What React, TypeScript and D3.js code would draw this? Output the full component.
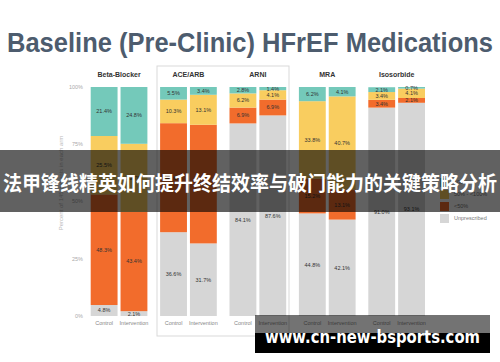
import React from 'react';
import * as d3 from 'd3';

const meds = ['Beta-Blocker', 'ACE/ARB', 'ARNI', 'MRA', 'Isosorbide'];
const arms = ['Control', 'Intervention'];
const doseKeys = ['Unprescribed', '<50%', '50% - <100%', '100%'];
// values per med x arm (Control, Intervention)
const unprescribed = [4.8, 2.1, 36.6, 31.7, 84.1, 87.6, 44.8, 42.1, 91.0, 93.1];
const under50 = [48.3, 43.4, 47.6, 51.8, 6.9, 6.9, 15.2, 13.1, 3.4, 2.1];
const mid50to100 = [25.5, 29.7, 10.3, 13.1, 6.2, 4.1, 33.8, 40.7, 3.4, 4.1];
const full100 = [21.4, 24.8, 5.5, 3.4, 2.8, 1.4, 6.2, 4.1, 2.1, 0.7];
const yTicks = [0, 25, 50, 75, 100];
const legendOrder = ['100%', '50% - <100%', '<50%', 'Unprescribed'];
const colors: Record<string, string> = {
  'Unprescribed': '#d6d6d6',
  '<50%': '#f26c2c',
  '50% - <100%': '#f9cd5f',
  '100%': '#74c9ba',
};

const title = 'Baseline (Pre-Clinic) HFrEF Medications';
const bannerText = '法甲锋线精英如何提升终结效率与破门能力的关键策略分析';
const watermark = 'www.cn-new-bsports.com';

const rows = meds.flatMap((m, i) =>
  arms.map((a, j) => {
    const k = i * 2 + j;
    return {
      med: m,
      arm: a,
      'Unprescribed': unprescribed[k],
      '<50%': under50[k],
      '50% - <100%': mid50to100[k],
      '100%': full100[k],
    } as any;
  })
);

export default function App() {
  const font = 'Liberation Sans, Arial, sans-serif';
  const x0 = d3.scaleBand<string>().domain(meds).range([90.7, 425]).paddingInner(0.183);
  const x1 = d3.scaleBand<string>().domain(arms).range([0, x0.bandwidth()]).paddingInner(0.1);
  const y = d3.scaleLinear().domain([0, 100]).range([316, 87]);
  const stack = d3.stack<any>().keys(doseKeys);
  const series = stack(rows);

  return (
    <svg width={500} height={362} style={{ position: 'absolute', left: 0, top: 0, background: '#fff' }} fontFamily={font}>
      <rect x={0} y={0} width={500} height={362} fill="#fff" />
      <text x={7} y={52} fontSize={27} fontWeight="bold" fill="#4d5c6e" textLength={486} lengthAdjust="spacingAndGlyphs">{title}</text>

      {/* highlight box around ACE/ARB and ARNI */}
      <rect x={157} y={66} width={132} height={270} fill="none" stroke="#d9d9d9" strokeWidth={1} />

      {/* y axis */}
      {yTicks.map(t => (
        <text key={t} x={83} y={y(t)} dy="0.35em" textAnchor="end" fontSize={5.5} fill="#aaa">{t}%</text>
      ))}
      <text transform={`translate(63,183) rotate(-90)`} textAnchor="middle" fontSize={6} fill="#bbb">Percent of 145 patients in each arm</text>

      {/* facet headers */}
      {meds.map(m => (
        <text key={m} x={(x0(m) as number) + x0.bandwidth() / 2} y={77} textAnchor="middle" fontSize={7} fontWeight="bold" fill="#333">{m}</text>
      ))}

      {/* bars */}
      {series.map(s => (
        <g key={s.key} fill={colors[s.key]}>
          {s.map((d, i) => {
            const r = rows[i];
            const bx = (x0(r.med) as number) + (x1(r.arm) as number);
            return (
              <rect key={i} x={bx} y={y(d[1])} width={x1.bandwidth()} height={y(d[0]) - y(d[1])} />
            );
          })}
        </g>
      ))}
      {series.map(s => (
        <g key={s.key + 'l'}>
          {s.map((d, i) => {
            const r = rows[i];
            const bx = (x0(r.med) as number) + (x1(r.arm) as number) + x1.bandwidth() / 2;
            const v = d[1] - d[0];
            return (
              <text key={i} x={bx} y={y((d[0] + d[1]) / 2)} dy="0.35em" textAnchor="middle" fontSize={5.5} fill="#333">{v.toFixed(1)}%</text>
            );
          })}
        </g>
      ))}

      {/* x labels */}
      {rows.map((r, i) => (
        <text key={i} x={(x0(r.med) as number) + (x1(r.arm) as number) + x1.bandwidth() / 2} y={325} textAnchor="middle" fontSize={5.5} fill="#888">{r.arm}</text>
      ))}

      {/* legend */}
      {legendOrder.map((k, i) => (
        <g key={k} transform={`translate(440,${178 + i * 12})`}>
          <rect x={0} y={0} width={9} height={9} fill={colors[k]} />
          <text x={14} y={4.5} dy="0.35em" fontSize={5.5} fill="#777">{k}</text>
        </g>
      ))}

      {/* banner overlay */}
      <rect x={0} y={150} width={500} height={62} fill="#000" fillOpacity={0.62} />
      <text x={3} y={184} dy="0.35em" fontSize={20} fontWeight="bold" fill="#fff" fontFamily="Noto Sans CJK SC, sans-serif" textLength={494} lengthAdjust="spacingAndGlyphs">{bannerText}</text>

      {/* watermark */}
      <rect x={255} y={315} width={235} height={18} fill="#000" fillOpacity={0.55} />
      <rect x={255} y={333} width={235} height={20} fill="#000" />
      <text x={265} y={343} fontSize={17} fontWeight="bold" fill="#fff" fontFamily="DejaVu Sans, sans-serif" textLength={215} lengthAdjust="spacingAndGlyphs">{watermark}</text>
    </svg>
  );
}
